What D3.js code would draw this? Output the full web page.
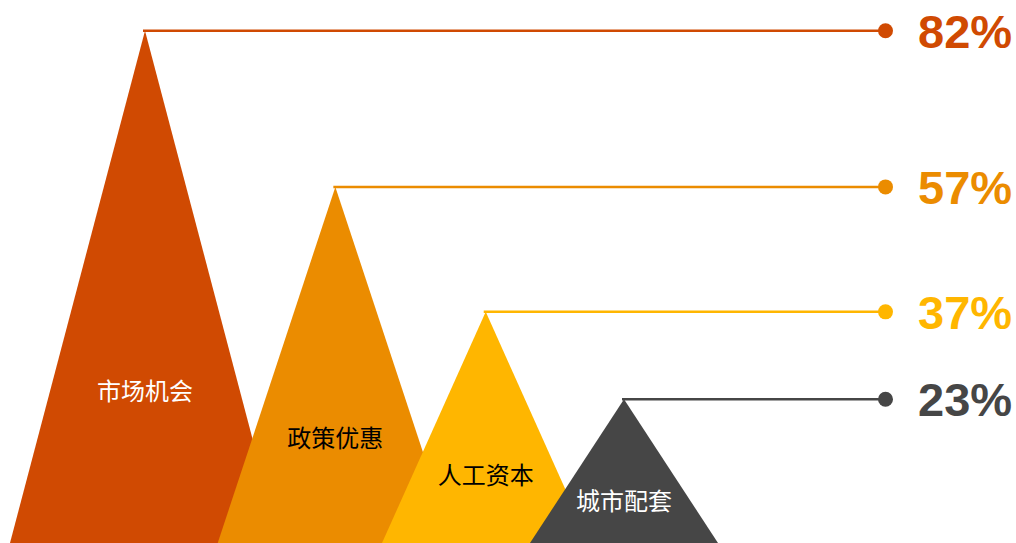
<!DOCTYPE html>
<html>
<head>
<meta charset="utf-8">
<script src="https://cdn.jsdelivr.net/npm/d3@7"></script>
<style>
  body { margin: 0; background: #fff; }
  svg { display: block; }
</style>
</head>
<body>
<div id="canvas"></div>
<script>
"use strict"

/* Data */
let categories = ["市场机会", "政策优惠", "人工资本", "城市配套"];
let values = [82, 57, 37, 23];
let valueLabels = ["82%", "57%", "37%", "23%"];

/* Styles, one per triangle */
let fills = ["#D04A02", "#EB8C00", "#FFB600", "#464646"];
let labelFills = ["#ffffff", "#000000", "#000000", "#ffffff"];

let width = 1016;
let height = 543;

let drawing = d3.select("#canvas")
    .append("svg")
    .attr("width", width)
    .attr("height", height);

/* Height of each triangle comes from its value */
let y = d3.scaleLinear()
    .domain([0, 85])
    .range([height, 12]);

/* Apexes get closer together towards the right */
let x = d3.scalePow()
    .exponent(0.84)
    .domain([0, categories.length - 1])
    .range([145, 624]);

/* Half of the base width */
let halfWidth = d3.scaleLinear()
    .domain([23, 82])
    .range([94, 135]);

let dotX = 885.5;
let labelX = 918;

let items = categories.map((c, i) => ({
    name: c,
    value: values[i],
    label: valueLabels[i],
    fill: fills[i],
    labelFill: labelFills[i],
    cx: x(i)
}));

/* Draw the triangles, left one first so the next one sits on top */
let triangles = drawing.append("g")
    .selectAll("polygon")
    .data(items)
    .join("polygon")
    .attr("points", d => {
        let hw = halfWidth(d.value);
        return [
            [d.cx, y(d.value)],
            [d.cx - hw, y(0)],
            [d.cx + hw, y(0)]
        ].join(" ");
    })
    .attr("fill", d => d.fill);

/* Category names inside the triangles */
let names = drawing.append("g")
    .selectAll("text")
    .data(items)
    .join("text")
    .attr("x", d => d.cx)
    .attr("y", d => y(d.value * 0.3))
    .attr("text-anchor", "middle")
    .attr("dominant-baseline", "central")
    .attr("font-family", "'Noto Sans CJK SC', 'Noto Sans', sans-serif")
    .attr("font-size", 24)
    .attr("fill", d => d.labelFill)
    .text(d => d.name);

/* Leader lines from the apex to the dot */
let leaders = drawing.append("g")
    .selectAll("line")
    .data(items)
    .join("line")
    .attr("x1", d => d.cx - 2)
    .attr("y1", d => y(d.value))
    .attr("x2", dotX)
    .attr("y2", d => y(d.value))
    .attr("stroke", d => d.fill)
    .attr("stroke-width", 2.5);

let dots = drawing.append("g")
    .selectAll("circle")
    .data(items)
    .join("circle")
    .attr("cx", dotX)
    .attr("cy", d => y(d.value))
    .attr("r", 7.5)
    .attr("fill", d => d.fill);

/* Percent labels */
let percents = drawing.append("g")
    .selectAll("text")
    .data(items)
    .join("text")
    .attr("x", labelX)
    .attr("y", d => y(d.value) + 17)
    .attr("font-family", "'Liberation Sans', Arial, sans-serif")
    .attr("font-weight", "bold")
    .attr("font-size", 47)
    .attr("fill", d => d.fill)
    .text(d => d.label);
</script>
</body>
</html>
